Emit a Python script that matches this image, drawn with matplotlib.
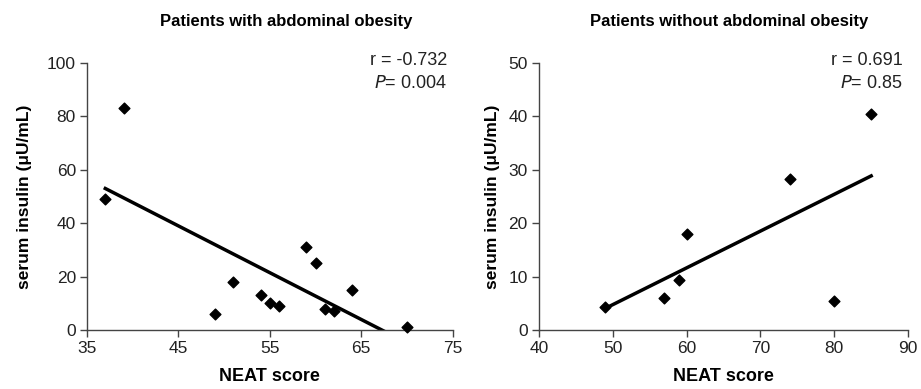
import numpy as np
import matplotlib
matplotlib.use("Agg")
import matplotlib.pyplot as plt

plt.rcParams['font.family'] = ['Liberation Sans', 'DejaVu Sans']

# 腹型肥胖组
neat_obese = [37, 39, 49, 51, 54, 55, 56, 59, 60, 61, 62, 64, 70]
ins_obese = [49, 83, 6, 18, 13, 10, 9, 31, 25, 8, 7, 15, 1]
# 非腹型肥胖组
neat_lean = [49, 57, 59, 60, 74, 80, 85]
ins_lean = [4.3, 5.9, 9.3, 17.9, 28.2, 5.5, 40.5]

panels = [
    dict(x=neat_obese, y=ins_obese, title='Patients with abdominal obesity',
         r='r = -0.732', p='0.004', xlim=(35, 75), xticks=[35, 45, 55, 65, 75],
         ylim=(0, 100), yticks=[0, 20, 40, 60, 80, 100],
         rect=[0.0945, 0.152, 0.397, 0.686], tx=0.311, ylx=-0.150),
    dict(x=neat_lean, y=ins_lean, title='Patients without abdominal obesity',
         r='r = 0.691', p='0.85', xlim=(40, 90), xticks=[40, 50, 60, 70, 80, 90],
         ylim=(0, 50), yticks=[0, 10, 20, 30, 40, 50],
         rect=[0.585, 0.152, 0.401, 0.686], tx=0.792, ylx=-0.106),
]

fig = plt.figure(figsize=(9.21, 3.89), dpi=100)

for pn in panels:
    ax = fig.add_axes(pn['rect'])
    x = np.array(pn['x'])
    y = np.array(pn['y'])
    ax.scatter(x, y, marker='D', s=30, color='black', zorder=3, clip_on=False)
    # 回归线
    k, b = np.polyfit(x, y, 1)
    xs = np.array([x.min(), x.max()])
    ax.plot(xs, k * xs + b, color='black', lw=2.5)
    ax.set_xlim(pn['xlim'])
    ax.set_ylim(pn['ylim'])
    ax.set_xticks(pn['xticks'])
    ax.set_yticks(pn['yticks'])
    for s in ['top', 'right']:
        ax.spines[s].set_visible(False)
    for s in ['left', 'bottom']:
        ax.spines[s].set_color('#444444')
        ax.spines[s].set_linewidth(1)
    ax.tick_params(direction='out', length=5, width=1, color='#444444',
                   labelsize=12.5, labelcolor='#222222', pad=3)
    ax.set_xlabel('NEAT score', fontsize=13, fontweight='bold', labelpad=9)
    ax.set_ylabel('serum insulin (\u03bcU/mL)', fontsize=12.5, fontweight='bold')
    ax.yaxis.set_label_coords(pn['ylx'], 0.5)
    fig.text(pn['tx'], 0.946, pn['title'], fontsize=12, fontweight='bold',
             ha='center', va='center')
    ax.text(0.985, 1.01, pn['r'], transform=ax.transAxes, ha='right', va='center',
            fontsize=13, color='#222222')
    ax.text(0.985, 0.925, '$\\it{P}$= ' + pn['p'], transform=ax.transAxes,
            ha='right', va='center', fontsize=13, color='#222222')

fig.savefig('out.png', dpi=100)
